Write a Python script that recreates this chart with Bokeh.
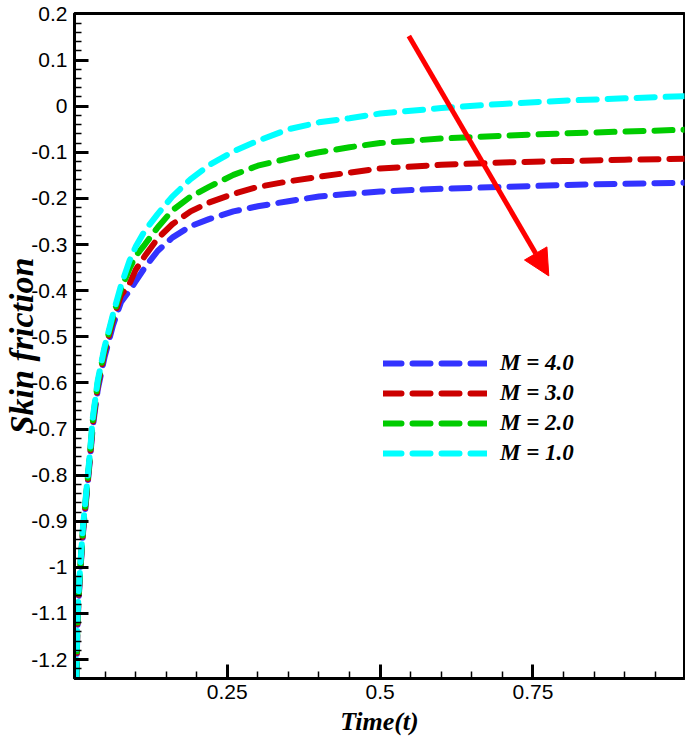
import numpy as np
from bokeh.plotting import figure
from bokeh.models import Range1d, FixedTicker, Legend, LegendItem, Arrow, NormalHead
from bokeh.embed import file_html
from bokeh.resources import INLINE

# ---------------- data ----------------
time = [0.003, 0.0045, 0.0065, 0.01, 0.014, 0.019, 0.025, 0.03, 0.038, 0.049,
        0.063, 0.076, 0.09, 0.1, 0.115, 0.136, 0.16, 0.19, 0.22, 0.26,
        0.3, 0.35, 0.4, 0.45, 0.5, 0.6, 0.7, 0.8, 0.9, 1.0]

m4 = [-1.25, -1.145, -1.073, -1.0, -0.925, -0.855, -0.77, -0.695, -0.615, -0.545,
      -0.475, -0.425, -0.40, -0.38, -0.35, -0.314, -0.285, -0.26, -0.245, -0.228,
      -0.217, -0.206, -0.196, -0.19, -0.185, -0.179, -0.175, -0.171, -0.168, -0.166]

m3 = [-1.248, -1.14, -1.068, -0.995, -0.92, -0.85, -0.765, -0.688, -0.607, -0.535,
      -0.463, -0.41, -0.385, -0.355, -0.325, -0.287, -0.256, -0.228, -0.209, -0.19,
      -0.175, -0.163, -0.153, -0.144, -0.135, -0.127, -0.122, -0.119, -0.116, -0.114]

m2 = [-1.245, -1.135, -1.063, -0.99, -0.915, -0.845, -0.76, -0.68, -0.60, -0.528,
      -0.456, -0.397, -0.352, -0.325, -0.30, -0.263, -0.226, -0.196, -0.175, -0.149,
      -0.129, -0.113, -0.10, -0.089, -0.08, -0.07, -0.064, -0.059, -0.055, -0.051]

m1 = [-1.24, -1.13, -1.058, -0.985, -0.91, -0.84, -0.755, -0.675, -0.595, -0.523,
      -0.451, -0.389, -0.335, -0.305, -0.27, -0.234, -0.196, -0.158, -0.128, -0.098,
      -0.075, -0.05, -0.035, -0.026, -0.016, -0.004, 0.005, 0.012, 0.017, 0.022]

series = [m4, m3, m2, m1]
series_labels = ["M = 4.0", "M = 3.0", "M = 2.0", "M = 1.0"]
series_colors = ["#3333ff", "#cc0000", "#00cc00", "#00ffff"]

x_ticks = [0.25, 0.5, 0.75]
x_tick_labels = ["0.25", "0.5", "0.75"]
x_minor_ticks = [0.05, 0.1, 0.15, 0.2, 0.3, 0.35, 0.4, 0.45, 0.55, 0.6, 0.65, 0.7,
                 0.8, 0.85, 0.9, 0.95]

y_ticks = [0.2, 0.1, 0, -0.1, -0.2, -0.3, -0.4, -0.5, -0.6, -0.7, -0.8, -0.9,
           -1.0, -1.1, -1.2]
y_tick_labels = ["0.2", "0.1", "0", "-0.1", "-0.2", "-0.3", "-0.4", "-0.5", "-0.6",
                 "-0.7", "-0.8", "-0.9", "-1", "-1.1", "-1.2"]
y_minor_ticks = [round(-1.24 + 0.02 * i, 2) for i in range(73)]

x_title = "Time(t)"
y_title = "Skin friction"

# arrow annotation (data coords)
arrow_start = (0.547, 0.152)
arrow_end = (0.776, -0.368)

# ---------------- figure ----------------
p = figure(width=685, height=744,
           x_range=Range1d(0, 0.998), y_range=Range1d(-1.241, 0.201),
           output_backend="svg", toolbar_location=None,
           min_border_left=74, min_border_top=13, min_border_right=1, min_border_bottom=66,
           background_fill_color="white", border_fill_color="white")

p.outline_line_color = "black"
p.outline_line_width = 3
p.xgrid.visible = False
p.ygrid.visible = False

renderers = []
for vals, col in zip(series, series_colors):
    r = p.line(time, vals, line_color=col, line_width=6, line_dash="18 11",
               line_cap="round")
    renderers.append(r)

for ax in (p.xaxis[0], p.yaxis[0]):
    ax.axis_line_width = 3
    ax.axis_line_color = "black"
    ax.major_tick_in = 14
    ax.major_tick_out = 0
    ax.minor_tick_in = 7
    ax.minor_tick_out = 0
    ax.major_tick_line_width = 3
    ax.minor_tick_line_width = 1.5
    ax.major_tick_line_color = "black"
    ax.minor_tick_line_color = "black"
    ax.major_label_text_font = "Liberation Sans"
    ax.major_label_text_font_size = "21px"
    ax.major_label_text_color = "black"
    ax.axis_label_text_font = "Liberation Serif"
    ax.axis_label_text_font_style = "bold italic"
    ax.axis_label_text_color = "black"

p.xaxis[0].ticker = FixedTicker(ticks=x_ticks, minor_ticks=x_minor_ticks)
p.xaxis[0].major_label_overrides = dict(zip(x_ticks, x_tick_labels))
p.xaxis[0].major_label_standoff = 6
p.xaxis[0].axis_label = x_title
p.xaxis[0].axis_label_text_font_size = "26px"
p.xaxis[0].axis_label_standoff = 5

p.yaxis[0].ticker = FixedTicker(ticks=y_ticks, minor_ticks=y_minor_ticks)
p.yaxis[0].major_label_overrides = dict(zip(y_ticks, y_tick_labels))
p.yaxis[0].major_label_standoff = 7
p.yaxis[0].axis_label = y_title
p.yaxis[0].axis_label_text_font_size = "34px"
p.yaxis[0].axis_label_standoff = -12

legend = Legend(
    items=[LegendItem(label=lab, renderers=[r]) for lab, r in zip(series_labels, renderers)],
    location=(309, 212), padding=0, margin=0, border_line_color=None,
    background_fill_alpha=0, glyph_width=104, glyph_height=20, label_height=20,
    spacing=4, label_standoff=13, label_text_font="Liberation Serif",
    label_text_font_style="bold italic", label_text_font_size="23px",
    label_text_color="black")
p.add_layout(legend)

p.add_layout(Arrow(end=NormalHead(size=26, fill_color="#ff0000", line_color="#ff0000"),
                   x_start=arrow_start[0], y_start=arrow_start[1],
                   x_end=arrow_end[0], y_end=arrow_end[1],
                   line_color="#ff0000", line_width=5))

open("out.html", "w").write(file_html(p, INLINE))
